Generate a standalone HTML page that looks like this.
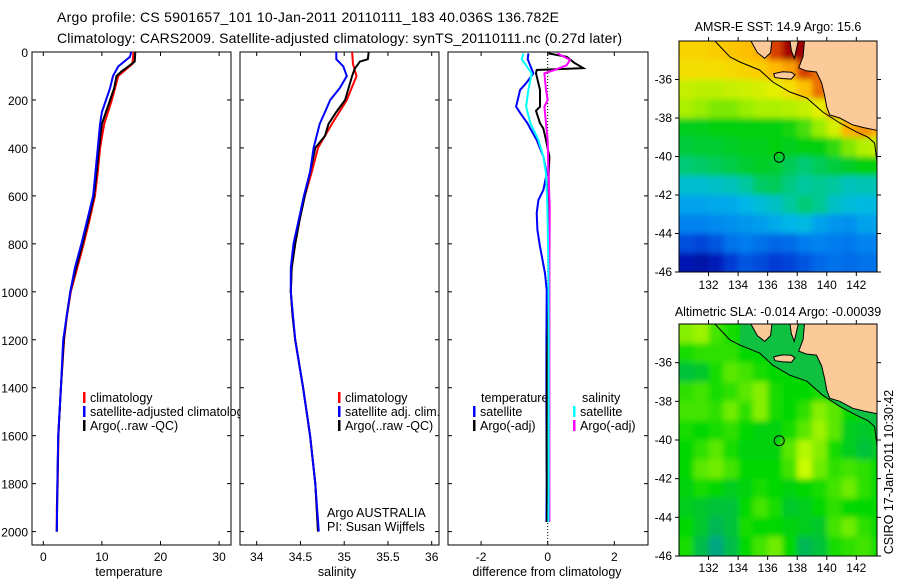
<!DOCTYPE html>
<html><head><meta charset="utf-8">
<style>
html,body{margin:0;padding:0;background:#fff;}
svg{display:block;font-family:"Liberation Sans",Arial,sans-serif;}
text{fill:#000;}
</style></head>
<body>
<svg id="fig" width="900" height="580" viewBox="0 0 900 580" xmlns="http://www.w3.org/2000/svg">
<defs>
<filter id="blur" x="-5%" y="-5%" width="110%" height="110%"><feGaussianBlur stdDeviation="2.8"/></filter>
<clipPath id="clipm1"><rect x="679" y="41" width="198" height="231"/></clipPath>
<clipPath id="clipm2"><rect x="679" y="324" width="198" height="232"/></clipPath>
<clipPath id="clipp1"><rect x="32" y="52" width="199" height="493"/></clipPath>
<clipPath id="clipp2"><rect x="240" y="52" width="199" height="493"/></clipPath>
<clipPath id="clipp3"><rect x="448" y="52" width="200" height="493"/></clipPath>
</defs>
<text x="57" y="22" font-size="14" textLength="502">Argo profile: CS 5901657_101 10-Jan-2011 20110111_183 40.036S 136.782E</text>
<text x="57" y="43" font-size="14" textLength="565">Climatology: CARS2009. Satellite-adjusted climatology: synTS_20110111.nc (0.27d later)</text>
<g id="root"></g>
</svg>
<script>
// ---------- profile data ----------
const tDepthArgo = [0,40,60,80,100,150,200,300,400,500,600,700,800,900,1000,1100,1200,1400,1600,1800,2000];
const tArgo = [15.7,15.6,14.5,13.4,12.5,12.1,11.4,10.0,9.5,9.1,8.65,7.7,6.7,5.6,4.6,4.0,3.5,3.0,2.56,2.4,2.3];
const tDepthClim = [0,50,100,200,300,400,500,600,700,800,900,1000,1100,1200,1400,1600,1800,1900,2000];
const tClim = [15.4,15.2,12.8,11.7,10.4,9.7,9.3,8.8,7.9,6.9,5.8,4.7,4.05,3.55,3.0,2.58,2.45,2.3,2.3];
const tDepthSat = [0,20,60,100,150,200,250,300,400,500,600,700,800,900,1000,1200,1400,1600,1800,2000];
const tSat = [15.0,14.8,12.8,11.9,11.4,10.7,10.0,9.7,9.3,8.9,8.5,7.5,6.5,5.4,4.6,3.4,3.0,2.55,2.4,2.3];

const sDepthArgo = [0,30,40,70,100,150,200,250,300,350,400,500,600,700,800,900,1000,1100,1200,1400,1600,1800,2000];
const sArgo = [35.28,35.27,35.18,35.12,35.09,35.05,35.01,34.91,34.82,34.78,34.67,34.61,34.55,34.49,34.44,34.40,34.39,34.41,34.44,34.53,34.61,34.67,34.70];
const sDepthClim = [0,50,100,200,300,400,500,600,700,800,900,1000,1100,1200,1400,1600,1800,2000];
const sClim = [35.09,35.10,35.14,35.03,34.86,34.70,34.63,34.55,34.49,34.44,34.40,34.39,34.41,34.44,34.53,34.61,34.67,34.70];
const sDepthSat = [0,30,60,100,150,200,250,300,400,500,600,700,800,900,1000,1200,1400,1600,1800,2000];
const sSat = [34.91,34.91,34.99,35.03,34.95,34.84,34.78,34.72,34.65,34.61,34.54,34.48,34.42,34.39,34.39,34.44,34.53,34.61,34.67,34.71];

const dDepthTSat = [6,30,89,130,158,228,260,297,367,437,506,575,617,672,742,811,923,992,1200,1500,1800,1960];
const dTSat = [-0.58,-0.6,-0.43,-0.65,-0.83,-0.95,-0.8,-0.61,-0.33,-0.13,-0.03,-0.13,-0.28,-0.33,-0.31,-0.23,-0.08,-0.03,-0.04,-0.04,-0.03,-0.04];
const dDepthSSat = [6,30,89,158,228,297,367,437,506,645,900,1200,1500,1800,1960];
const dSSat = [-0.73,-0.78,-0.48,-0.58,-0.65,-0.52,-0.28,-0.13,-0.05,-0.01,0.02,0.03,0.03,0.03,0.02];
const dDepthTArgo = [6,20,45,67,75,89,158,228,245,297,320,367,437,506,575,800,1000,1300,1600,1960];
const dTArgo = [0.02,0.57,0.8,1.07,-0.33,-0.35,-0.23,-0.23,-0.35,-0.23,-0.13,-0.05,0.05,0.03,0.03,0.03,0.03,-0.02,-0.03,-0.02];
const dDepthSArgo = [6,33,55,75,89,158,200,228,297,367,506,645,900,1200,1500,1800,1960];
const dSArgo = [0.29,0.67,0.57,0.2,-0.1,-0.05,0,-0.1,-0.05,0,0.02,0.06,0.05,0.05,0.05,0.05,0.05];

// ---------- map data ----------
const mapLons = [130.5,131.5,132.5,133.5,134.5,135.5,136.5,137.5,138.5,139.5,140.5,141.5,142.5,143.5];
const mapLats = [-34.5,-35.5,-36.5,-37.5,-38.5,-39.5,-40.5,-41.5,-42.5,-43.5,-44.5,-45.5];
const sstGrid = [
[19.0,19.0,19.1,19.2,19.3,19.5,21,23,23,21,19.5,19.5,19.5,19.5],
[18.8,18.8,18.8,18.9,19.0,19.1,19.4,19.8,21,20.5,19.5,19.5,19.5,19.5],
[18.0,17.9,17.9,18.0,18.1,18.2,18.4,18.8,19.3,20.5,19.5,19.5,19.5,19.5],
[17.7,17.6,17.5,17.5,17.6,17.7,17.7,17.8,18.0,18.4,20,19.5,19.5,19.5],
[16.9,16.9,17.0,17.0,17.0,17.0,17.0,17.1,17.3,17.6,18.2,19.5,20,19.5],
[16.6,16.7,16.7,16.8,16.9,16.9,17.0,16.9,17.0,17.0,17.2,17.5,17.8,18],
[16.2,16.3,16.4,16.5,16.7,16.8,16.7,16.4,16.2,16.4,16.6,16.8,17,17],
[15.4,15.4,15.5,15.6,15.9,16.3,16.4,16.1,15.9,16.0,15.9,15.6,15.7,15.7],
[14.8,14.8,14.9,14.9,15.1,15.3,15.5,15.9,16.2,16.0,15.5,15.3,15.2,15.2],
[14.3,14.3,14.4,14.5,14.6,14.7,14.9,15.1,15.2,14.8,14.6,14.5,14.8,14.8],
[13.4,13.2,13.5,14.0,14.2,14.0,13.8,13.9,14.2,14.3,14.2,14.1,14.3,14.3],
[12.2,12.0,12.3,13.0,13.5,13.3,13.0,13.2,13.5,13.8,14.0,13.9,14.0,14.0]];
const slaGrid = [
[0.6,0.7,0.3,0.1,0,0,0,0,0,0,0,0,0,0],
[0.1,0.2,0.2,0.2,0,0,0,0,0,0,0,0,0,0],
[-0.4,-0.3,0.1,0.4,0.3,0.1,0,0,0,0,0,0,0,0],
[0.2,0.3,0.1,0.2,0.4,0.6,0.1,0,0,0.1,0,0,0,0],
[0.3,0.3,0.2,0.5,0.2,0.6,0.1,0,0.2,0.6,0.4,0,-0.1,-0.1],
[0.1,0,0.1,0.2,0,-0.1,-0.1,0.1,0.4,0.7,0.4,-0.2,-0.3,-0.2],
[0,0.2,0.4,0.1,-0.1,-0.1,-0.1,0.4,0.8,0.6,0.1,-0.2,-0.4,-0.3],
[0,0.4,0.5,0.3,0,0,0,0.3,0.9,0.5,0.2,0.3,0.2,0],
[-0.1,0.1,0,-0.2,-0.1,0.1,0,-0.1,0,0.1,0.3,0.5,0.2,0],
[-0.2,-0.3,-0.4,-0.4,0,0.3,0.1,-0.3,-0.2,0,0.2,0,0,0],
[0,-0.3,-0.6,-0.4,0.1,0,0,-0.1,-0.2,-0.3,0.3,0.5,0.2,0],
[0.1,-0.5,-0.9,-0.5,0,0.3,0.5,0,-0.6,-0.4,0.1,0.2,0.3,0.1]];
const mainlandLon = [138.5,138.4,138.1,138.6,139.3,139.66,139.85,140.0,140.2,140.88,141.76,142.5,143.24,143.5,143.5];
const mainlandLat = [-33.9,-34.8,-35.4,-35.55,-35.61,-36.18,-36.8,-37.43,-37.84,-38.0,-38.36,-38.5,-38.62,-38.65,-33.9];
const eyreLon = [134.8,136.3,136.2,135.8,135.3];
const eyreLat = [-33.9,-33.9,-34.6,-34.9,-34.6];
const yorkeLon = [137.5,138.1,137.8,137.6];
const yorkeLat = [-33.9,-33.9,-34.9,-34.5];
const kiLon = [136.4,137.0,137.6,137.85,137.6,137.0,136.5];
const kiLat = [-35.7,-35.6,-35.62,-35.75,-35.98,-35.95,-35.9];
const contourLon = [130.0,131.2,132.43,133.45,134.12,135.47,136.35,137.5,138.65,139.73,140.88,142.03,142.77,143.24,143.4,143.5];
const contourLat = [-33.4,-33.7,-34.0,-34.83,-35.09,-35.51,-36.13,-36.65,-36.96,-37.69,-38.26,-38.73,-38.99,-39.3,-40.3,-40.5];
const floatLon = 136.782, floatLat = -40.036;
const depthTicks = [0,200,400,600,800,1000,1200,1400,1600,1800,2000];
const tempTicks = [0,10,20,30];
const salTicks = [34,34.5,35,35.5,36];
const salLabels = ['34','34.5','35','35.5','36'];
const diffTicks = [-2,0,2];
const lonTicks = [132,134,136,138,140,142];
const latTicks = [-36,-38,-40,-42,-44,-46];

const NS='http://www.w3.org/2000/svg';
const root=document.getElementById('root');
function el(tag,attrs,parent,txt){const e=document.createElementNS(NS,tag);for(const k in attrs)e.setAttribute(k,attrs[k]);if(txt!==undefined)e.textContent=txt;(parent||root).appendChild(e);return e;}

const P_TOP=52, P_BOT=545, PX_PER_M=0.2398;
const yD=d=>P_TOP+d*PX_PER_M;
const xT=t=>43.3+t*5.86;
const xS=s=>256.7+(s-34)*87.5;
const xDf=v=>547.7+v*33.3;

function panel(x0,x1,name){
  const g=el('g',{});
  
  
  el('rect',{x:x0,y:P_TOP,width:x1-x0,height:P_BOT-P_TOP,fill:'#fff',stroke:'#000','stroke-width':1},g);
  depthTicks.forEach(d=>{const y=yD(d);el('line',{x1:x0,x2:x0+4,y1:y,y2:y,stroke:'#000'},g);el('line',{x1:x1-4,x2:x1,y1:y,y2:y,stroke:'#000'},g);});
  return g;
}
function xticks(g,ticks,fx,labels){
  ticks.forEach((t,i)=>{const x=fx(t);el('line',{x1:x,x2:x,y1:P_BOT,y2:P_BOT-4,stroke:'#000'},g);el('line',{x1:x,x2:x,y1:P_TOP,y2:P_TOP+4,stroke:'#000'},g);
    const tx=el('text',{x:x,y:P_BOT+16,'font-size':12,'text-anchor':'middle'},g,labels?labels[i]:String(t));
    });
}
function line(g,xs,ds,fx,color,name,clip,w){
  const pts=xs.map((v,i)=>fx(v).toFixed(1)+','+yD(ds[i]).toFixed(1)).join(' ');
  const p=el('polyline',{points:pts,fill:'none',stroke:color,'stroke-width':w||2,'clip-path':'url(#'+clip+')'},g);
  
  
}
function legend(g,x,y,color,label,name){
  el('rect',{x:x,y:y-10,width:2.5,height:11,fill:color},g);
  const t=el('text',{x:x+7,y:y,'font-size':12.5},g,label);
  
  
}

const g1=panel(32,231,'temperature-panel');
depthTicks.forEach(d=>{const t=el('text',{x:28,y:yD(d)+5,'font-size':12,'text-anchor':'end'},g1,String(d));});
xticks(g1,tempTicks,xT,null);
const xl1=el('text',{x:129,y:576,'font-size':12.5,'text-anchor':'middle'},g1,'temperature');

line(g1,tClim,tDepthClim,xT,'#ff0000','temp-climatology-line','clipp1');
line(g1,tArgo,tDepthArgo,xT,'#000000','temp-argo-line','clipp1');
line(g1,tSat,tDepthSat,xT,'#0000ff','temp-satellite-line','clipp1');
legend(g1,83,402,'#ff0000','climatology','legend-climatology');
legend(g1,83,416,'#0000ff','satellite-adjusted climatology','legend-satellite-adjusted');
legend(g1,83,430,'#000000','Argo(..raw -QC)','legend-argo');

const g2=panel(240,439,'salinity-panel');
xticks(g2,salTicks,xS,salLabels);
const xl2=el('text',{x:337,y:576,'font-size':12.5,'text-anchor':'middle'},g2,'salinity');

line(g2,sClim,sDepthClim,xS,'#ff0000','sal-climatology-line','clipp2');
line(g2,sArgo,sDepthArgo,xS,'#000000','sal-argo-line','clipp2');
line(g2,sSat,sDepthSat,xS,'#0000ff','sal-satellite-line','clipp2');
legend(g2,338,402,'#ff0000','climatology','legend-climatology-sal');
legend(g2,338,416,'#0000ff','satellite adj. clim.','legend-satellite-sal');
legend(g2,338,430,'#000000','Argo(..raw -QC)','legend-argo-sal');
const c1=el('text',{x:327,y:517,'font-size':12.5},g2,'Argo AUSTRALIA');
const c2=el('text',{x:327,y:531,'font-size':12.5},g2,'PI: Susan Wijffels');

const g3=panel(448,648,'difference-panel');
xticks(g3,diffTicks,xDf,null);
const xl3=el('text',{x:547,y:576,'font-size':12.5,'text-anchor':'middle'},g3,'difference from climatology');

const zl=el('line',{x1:xDf(0),x2:xDf(0),y1:P_TOP,y2:yD(2050),stroke:'#000','stroke-dasharray':'1,2'},g3);

line(g3,dTSat,dDepthTSat,xDf,'#0000ff','diff-temp-satellite-line','clipp3');
line(g3,dTArgo,dDepthTArgo,xDf,'#000000','diff-temp-argo-line','clipp3');
line(g3,dSArgo,dDepthSArgo,xDf,'#ff00ff','diff-sal-argo-line','clipp3');
line(g3,dSSat,dDepthSSat,xDf,'#00ffff','diff-sal-satellite-line','clipp3');
const lt=el('text',{x:481,y:402,'font-size':12.5},g3,'temperature');
const ls=el('text',{x:582,y:402,'font-size':12.5},g3,'salinity');
legend(g3,473,416,'#0000ff','satellite','legend-temp-satellite');
legend(g3,473,430,'#000000','Argo(-adj)','legend-temp-argo');
legend(g3,573,416,'#00ffff','satellite','legend-sal-satellite');
legend(g3,573,430,'#ff00ff','Argo(-adj)','legend-sal-argo');

// ---------- maps ----------
const LON0=130, LON1=143.4, MX0=679, MX1=877;
const xLon=l=>MX0+(l-LON0)*(MX1-MX0)/(LON1-LON0);
function hex(c){return [parseInt(c.slice(1,3),16),parseInt(c.slice(3,5),16),parseInt(c.slice(5,7),16)];}
function cmap(stops,t){t=Math.max(0,Math.min(1,t));for(let i=1;i<stops.length;i++){if(t<=stops[i][0]){const a=stops[i-1],b=stops[i];const f=(t-a[0])/(b[0]-a[0]);const ca=hex(a[1]),cb=hex(b[1]);return 'rgb('+ca.map((v,k)=>Math.round(v+(cb[k]-v)*f)).join(',')+')';}}return stops[stops.length-1][1];}
const sstStops=[[0,'#000090'],[0.12,'#0030d0'],[0.25,'#0080f0'],[0.33,'#00b8e8'],[0.40,'#00c8a0'],[0.46,'#00cc40'],[0.5,'#00d010'],[0.56,'#a8f000'],[0.64,'#f0f000'],[0.72,'#ffb800'],[0.8,'#f08000'],[0.88,'#d03000'],[1,'#a00000']];
const slaStops=[[0,'#00a090'],[0.5,'#00d800'],[1,'#e0ff00']];

function drawMap(top,bot,grid,colorFn,clip,name,titleTxt,titleY,labY,shelf){
  const yLat=la=>top+(-34-la)*(bot-top)/12;
  const g=el('g',{});
  
  
  const cg=el('g',{'clip-path':'url(#'+clip+')'},g);
  el('rect',{x:MX0,y:top,width:MX1-MX0,height:bot-top,fill:colorFn(grid[6][6])},cg);
  const hg=el('g',{filter:'url(#blur)'},cg);
  grid.forEach((row,i)=>row.forEach((v,j)=>{
    const la=mapLats[i], lo=mapLons[j];
    const y0=i===0?yLat(-32):yLat(la+0.5), y1=i===grid.length-1?yLat(-48):yLat(la-0.5);
    const x0=j===0?xLon(128):xLon(lo-0.5), x1=xLon(lo+0.5);
    const c=el('rect',{x:x0.toFixed(1),y:y0.toFixed(1),width:(x1-x0+0.6).toFixed(1),height:(y1-y0+0.6).toFixed(1),fill:colorFn(v)},hg);
    
    
  }));
  const poly=(lons,lats)=>lons.map((l,i)=>xLon(l).toFixed(1)+','+yLat(lats[i]).toFixed(1)).join(' ');
  if(shelf){
    const sp=el('polygon',{points:poly(contourLon.slice(4).concat([143.5,134.12]),contourLat.slice(4).concat([-33,-33])),fill:'#10c040'},cg);
    
  }
  [[mainlandLon,mainlandLat,'mainland'],[eyreLon,eyreLat,'eyre-peninsula'],[yorkeLon,yorkeLat,'yorke-peninsula'],[kiLon,kiLat,'kangaroo-island']].forEach(([lo,la,n])=>{
    const p=el('polygon',{points:poly(lo,la),fill:'#fcca98',stroke:'#000','stroke-width':1},cg);
    
  });
  const ct=el('polyline',{points:poly(contourLon,contourLat),fill:'none',stroke:'#000','stroke-width':1},cg);
  
  const fc=el('circle',{cx:xLon(floatLon),cy:yLat(floatLat),r:5,fill:'none',stroke:'#000','stroke-width':1},g);
  
  el('rect',{x:MX0,y:top,width:MX1-MX0,height:bot-top,fill:'none',stroke:'#000'},g);
  lonTicks.forEach(l=>{const x=xLon(l);el('line',{x1:x,x2:x,y1:top,y2:top-4,stroke:'#000'},g);el('line',{x1:x,x2:x,y1:bot,y2:bot+4,stroke:'#000'},g);
    const t=el('text',{x:x,y:labY,'font-size':12,'text-anchor':'middle'},g,String(l));});
  latTicks.forEach(la=>{const y=yLat(la);el('line',{x1:MX0,x2:MX0-4,y1:y,y2:y,stroke:'#000'},g);el('line',{x1:MX1,x2:MX1+4,y1:y,y2:y,stroke:'#000'},g);
    const t=el('text',{x:672,y:y+4,'font-size':12,'text-anchor':'end'},g,String(la));});
  const tt=el('text',{x:778,y:titleY,'font-size':12.5,'text-anchor':'middle'},g,titleTxt);
  
}
drawMap(41,272,sstGrid,v=>cmap(sstStops,(v-11.5)/11),'clipm1','sst-map','AMSR-E SST: 14.9 Argo: 15.6',31,289,false);
drawMap(324,556,slaGrid,v=>cmap(slaStops,(v+1)/2),'clipm2','sla-map','Altimetric SLA: -0.014 Argo: -0.00039',316,572,true);

const stamp=el('text',{x:893,y:472,'font-size':12.5,'text-anchor':'middle',transform:'rotate(-90 893 472)'},root,'CSIRO 17-Jan-2011 10:30:42');


</script>
</body></html>
